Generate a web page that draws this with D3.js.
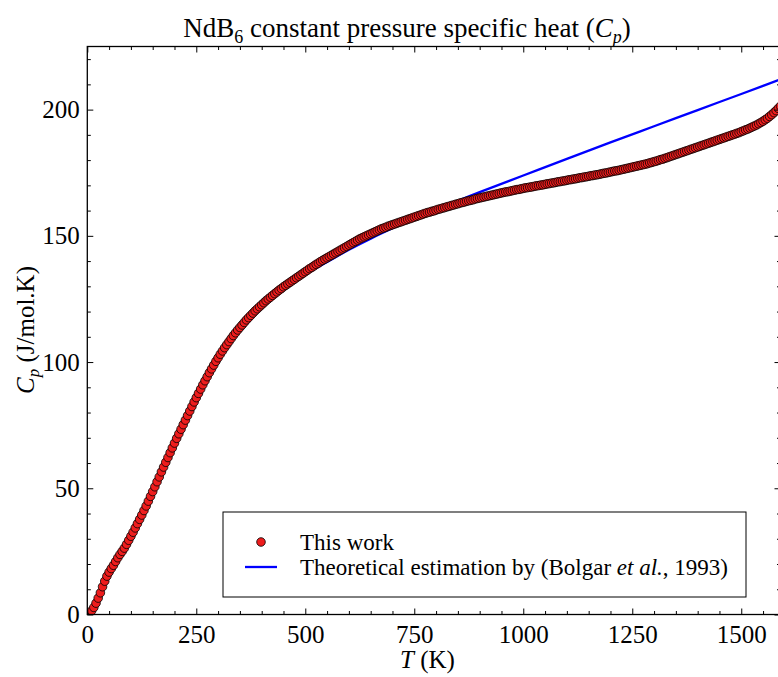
<!DOCTYPE html>
<html>
<head>
<meta charset="utf-8">
<script src="https://cdn.jsdelivr.net/npm/d3@7"></script>
<style>
body { margin: 0; background: #fff; }
text { font-family: "Liberation Serif", "Times New Roman", serif; fill: #000; }
</style>
</head>
<body>
<svg id="chart" width="778" height="677"></svg>
<script>
// measured Cp of NdB6 (this work), T in K, Cp in J/mol.K
const tempK = [
  5, 10, 15, 20, 25, 30, 35, 40, 45, 50, 55, 60, 65, 70, 75, 80, 85, 90, 95, 100,
  105, 110, 115, 120, 125, 130, 135, 140, 145, 150, 155, 160, 165, 170, 175, 180, 185, 190, 195, 200,
  205, 210, 215, 220, 225, 230, 235, 240, 245, 250, 255, 260, 265, 270, 275, 280, 285, 290, 295, 300,
  305, 310, 315, 320, 325, 330, 335, 340, 345, 350, 355, 360, 365, 370, 375, 380, 385, 390, 395, 400,
  405, 410, 415, 420, 425, 430, 435, 440, 445, 450, 455, 460, 465, 470, 475, 480, 485, 490, 495, 500,
  505, 510, 515, 520, 525, 530, 535, 540, 545, 550, 555, 560, 565, 570, 575, 580, 585, 590, 595, 600,
  605, 610, 615, 620, 625, 630, 635, 640, 645, 650, 655, 660, 665, 670, 675, 680, 685, 690, 695, 700,
  705, 710, 715, 720, 725, 730, 735, 740, 745, 750, 755, 760, 765, 770, 775, 780, 785, 790, 795, 800,
  805, 810, 815, 820, 825, 830, 835, 840, 845, 850, 855, 860, 865, 870, 875, 880, 885, 890, 895, 900,
  905, 910, 915, 920, 925, 930, 935, 940, 945, 950, 955, 960, 965, 970, 975, 980, 985, 990, 995, 1000,
  1005, 1010, 1015, 1020, 1025, 1030, 1035, 1040, 1045, 1050, 1055, 1060, 1065, 1070, 1075, 1080, 1085, 1090, 1095, 1100,
  1105, 1110, 1115, 1120, 1125, 1130, 1135, 1140, 1145, 1150, 1155, 1160, 1165, 1170, 1175, 1180, 1185, 1190, 1195, 1200,
  1205, 1210, 1215, 1220, 1225, 1230, 1235, 1240, 1245, 1250, 1255, 1260, 1265, 1270, 1275, 1280, 1285, 1290, 1295, 1300,
  1305, 1310, 1315, 1320, 1325, 1330, 1335, 1340, 1345, 1350, 1355, 1360, 1365, 1370, 1375, 1380, 1385, 1390, 1395, 1400,
  1405, 1410, 1415, 1420, 1425, 1430, 1435, 1440, 1445, 1450, 1455, 1460, 1465, 1470, 1475, 1480, 1485, 1490, 1495, 1500,
  1505, 1510, 1515, 1520, 1525, 1530, 1535, 1540, 1545, 1550, 1555, 1560, 1565, 1570, 1575, 1580, 1585, 1590
];
const cpMeasured = [
  0.5, 1.5, 2.8, 4.5, 6.5, 8.6, 11.0, 13.2, 15.2, 16.8, 18.2, 19.5, 21.0, 22.5, 23.8, 25.0, 26.3, 27.8, 29.4, 31.0,
  32.6, 34.3, 36.0, 37.7, 39.4, 41.2, 43.0, 44.9, 46.8, 48.7, 50.6, 52.6, 54.5, 56.5, 58.4, 60.3, 62.2, 64.1, 66.0, 67.9,
  69.8, 71.6, 73.4, 75.2, 77.0, 78.8, 80.6, 82.4, 84.2, 85.9, 87.6, 89.3, 91.0, 92.6, 94.2, 95.8, 97.3, 98.8, 100.3, 101.7,
  103.1, 104.4, 105.7, 106.9, 108.1, 109.3, 110.5, 111.6, 112.7, 113.7, 114.7, 115.7, 116.7, 117.6, 118.5, 119.4, 120.3, 121.1, 121.9, 122.7,
  123.5, 124.3, 125.0, 125.7, 126.4, 127.1, 127.8, 128.5, 129.1, 129.8, 130.4, 131.0, 131.6, 132.2, 132.8, 133.4, 134.0, 134.6, 135.2, 135.8,
  136.4, 137.0, 137.5, 138.1, 138.7, 139.2, 139.8, 140.3, 140.8, 141.3, 141.8, 142.3, 142.8, 143.3, 143.8, 144.3, 144.8, 145.3, 145.8, 146.3,
  146.8, 147.3, 147.8, 148.3, 148.8, 149.2, 149.6, 150.0, 150.4, 150.8, 151.2, 151.6, 152.0, 152.4, 152.8, 153.1, 153.4, 153.8, 154.1, 154.4,
  154.7, 155.0, 155.3, 155.6, 155.9, 156.2, 156.5, 156.8, 157.1, 157.4, 157.7, 158.0, 158.3, 158.6, 158.9, 159.2, 159.4, 159.7, 159.9, 160.2,
  160.5, 160.7, 161.0, 161.2, 161.5, 161.7, 162.0, 162.2, 162.5, 162.7, 163.0, 163.2, 163.4, 163.7, 163.9, 164.1, 164.3, 164.6, 164.8, 165.0,
  165.2, 165.4, 165.6, 165.8, 166.0, 166.2, 166.4, 166.6, 166.8, 167.0, 167.2, 167.4, 167.5, 167.7, 167.9, 168.1, 168.3, 168.4, 168.6, 168.8,
  169.0, 169.1, 169.3, 169.4, 169.6, 169.8, 169.9, 170.1, 170.2, 170.4, 170.6, 170.7, 170.9, 171.0, 171.2, 171.4, 171.5, 171.7, 171.8, 172.0,
  172.2, 172.3, 172.5, 172.6, 172.8, 173.0, 173.1, 173.3, 173.4, 173.6, 173.8, 173.9, 174.1, 174.2, 174.4, 174.6, 174.8, 174.9, 175.1, 175.3,
  175.5, 175.7, 175.8, 176.0, 176.2, 176.4, 176.6, 176.8, 177.0, 177.2, 177.4, 177.6, 177.8, 178.0, 178.2, 178.4, 178.6, 178.9, 179.1, 179.4,
  179.6, 179.9, 180.2, 180.4, 180.7, 181.0, 181.3, 181.6, 181.9, 182.2, 182.5, 182.8, 183.1, 183.4, 183.7, 184.0, 184.3, 184.6, 184.9, 185.2,
  185.5, 185.8, 186.1, 186.4, 186.7, 187.0, 187.3, 187.6, 187.9, 188.2, 188.5, 188.8, 189.1, 189.4, 189.7, 190.0, 190.3, 190.6, 190.9, 191.3,
  191.6, 192.0, 192.3, 192.7, 193.1, 193.5, 193.9, 194.4, 194.9, 195.4, 196.0, 196.6, 197.3, 198.0, 198.8, 199.6, 200.5, 201.4
];

// theoretical estimation (Bolgar et al., 1993)
const bolgarT = [298, 350, 400, 450, 500, 550, 600, 650, 700, 750, 800, 850, 900, 1000, 1100, 1200, 1300, 1400, 1500, 1600];
const bolgarCp = [100.6, 112.2, 121.3, 128.5, 134.6, 139.6, 144.5, 148.9, 153.0, 156.9, 160.6, 163.9, 167.3, 173.9, 180.5, 187.0, 193.4, 199.8, 206.2, 212.6];

const xTickValues = [0, 250, 500, 750, 1000, 1250, 1500];
const yTickValues = [0, 50, 100, 150, 200];

const plotLeft = 87.3, plotRight = 780.5, plotTop = 46.5, plotBottom = 614.5;

const x = d3.scaleLinear().domain([0, 1590]).range([plotLeft, plotRight]);
const y = d3.scaleLinear().domain([0, 225]).range([plotBottom, plotTop]);

const svg = d3.select('#chart');

svg.append('defs').append('clipPath').attr('id', 'plotClip')
    .append('rect')
    .attr('x', plotLeft).attr('y', plotTop)
    .attr('width', plotRight - plotLeft).attr('height', plotBottom - plotTop);

// blue theoretical curve (under the points)
const line = d3.line()
    .x((d, i) => x(bolgarT[i]))
    .y(d => y(d))
    .curve(d3.curveMonotoneX);

svg.append('path')
    .attr('clip-path', 'url(#plotClip)')
    .attr('d', line(bolgarCp))
    .attr('fill', 'none')
    .attr('stroke', '#0000ff')
    .attr('stroke-width', 2.3);

// measured points
svg.append('g')
    .attr('clip-path', 'url(#plotClip)')
    .selectAll('circle')
    .data(cpMeasured)
    .join('circle')
    .attr('cx', (d, i) => x(tempK[i]))
    .attr('cy', d => y(d))
    .attr('r', 4.3)
    .attr('fill', '#ee1d1d')
    .attr('stroke', '#000')
    .attr('stroke-width', 0.8);

// axes: major + minor ticks pointing inward on all four sides
const xMinor = d3.range(0, 1600, 50).filter(v => v % 250 !== 0);
const yMinor = d3.range(0, 230, 10).filter(v => v % 50 !== 0);

const styleAxis = g => {
    g.select('.domain').remove();
    g.selectAll('line').attr('stroke', '#000').attr('stroke-width', 1);
    g.selectAll('text').attr('font-size', 25).attr('font-family', '"Liberation Serif", serif');
};

svg.append('g').attr('transform', `translate(0,${plotBottom})`)
    .call(d3.axisBottom(x).tickValues(xTickValues).tickSize(-6).tickPadding(11).tickFormat(d3.format('d')))
    .call(styleAxis);
svg.append('g').attr('transform', `translate(0,${plotBottom})`)
    .call(d3.axisBottom(x).tickValues(xMinor).tickSize(-3.5).tickFormat(''))
    .call(styleAxis);
svg.append('g').attr('transform', `translate(0,${plotTop})`)
    .call(d3.axisTop(x).tickValues(xTickValues).tickSize(-6).tickFormat(''))
    .call(styleAxis);
svg.append('g').attr('transform', `translate(0,${plotTop})`)
    .call(d3.axisTop(x).tickValues(xMinor).tickSize(-3.5).tickFormat(''))
    .call(styleAxis);

svg.append('g').attr('transform', `translate(${plotLeft},0)`)
    .call(d3.axisLeft(y).tickValues(yTickValues).tickSize(-6).tickPadding(7.5))
    .call(styleAxis);
svg.append('g').attr('transform', `translate(${plotLeft},0)`)
    .call(d3.axisLeft(y).tickValues(yMinor).tickSize(-3.5).tickFormat(''))
    .call(styleAxis);
svg.append('g').attr('transform', `translate(${plotRight},0)`)
    .call(d3.axisRight(y).tickValues(yTickValues).tickSize(-6).tickFormat(''))
    .call(styleAxis);
svg.append('g').attr('transform', `translate(${plotRight},0)`)
    .call(d3.axisRight(y).tickValues(yMinor).tickSize(-3.5).tickFormat(''))
    .call(styleAxis);

// frame
svg.append('rect')
    .attr('x', plotLeft).attr('y', plotTop)
    .attr('width', plotRight - plotLeft).attr('height', plotBottom - plotTop)
    .attr('fill', 'none').attr('stroke', '#000').attr('stroke-width', 1.3);

// title
const title = svg.append('text')
    .attr('x', 407).attr('y', 37)
    .attr('text-anchor', 'middle')
    .attr('font-size', 27);
title.append('tspan').text('NdB');
title.append('tspan').attr('dy', 6).attr('font-size', 18).text('6');
title.append('tspan').attr('dy', -6).text(' constant pressure specific heat (');
title.append('tspan').attr('font-style', 'italic').text('C');
title.append('tspan').attr('font-style', 'italic').attr('dy', 6).attr('font-size', 18).text('p');
title.append('tspan').attr('dy', -6).text(')');

// x label
const xLabel = svg.append('text')
    .attr('x', 427.5).attr('y', 668)
    .attr('text-anchor', 'middle')
    .attr('font-size', 25);
xLabel.append('tspan').attr('font-style', 'italic').text('T');
xLabel.append('tspan').text(' (K)');

// y label
const yLabel = svg.append('text')
    .attr('transform', 'translate(34,330) rotate(-90)')
    .attr('text-anchor', 'middle')
    .attr('font-size', 25);
yLabel.append('tspan').attr('font-style', 'italic').text('C');
yLabel.append('tspan').attr('font-style', 'italic').attr('dy', 5).attr('font-size', 17).text('p');
yLabel.append('tspan').attr('dy', -5).text(' (J/mol.K)');

// legend
const legend = svg.append('g');
legend.append('rect')
    .attr('x', 223).attr('y', 512)
    .attr('width', 523).attr('height', 85)
    .attr('fill', '#fff').attr('stroke', '#000').attr('stroke-width', 1);
legend.append('circle')
    .attr('cx', 261).attr('cy', 542).attr('r', 4.3)
    .attr('fill', '#ee1d1d').attr('stroke', '#000').attr('stroke-width', 0.8);
legend.append('line')
    .attr('x1', 245).attr('x2', 277).attr('y1', 567).attr('y2', 567)
    .attr('stroke', '#0000ff').attr('stroke-width', 2.3);
legend.append('text')
    .attr('x', 300).attr('y', 550)
    .attr('font-size', 23)
    .text('This work');
const legText = legend.append('text')
    .attr('x', 300).attr('y', 575)
    .attr('font-size', 23);
legText.append('tspan').text('Theoretical estimation by (Bolgar ');
legText.append('tspan').attr('font-style', 'italic').text('et al.');
legText.append('tspan').text(', 1993)');
</script>
</body>
</html>
